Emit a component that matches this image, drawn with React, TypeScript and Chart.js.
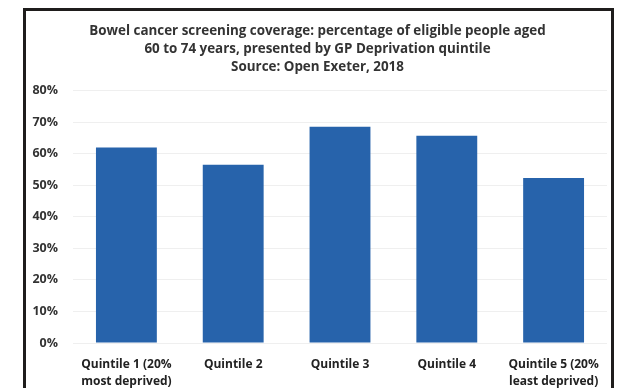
import React, { useEffect, useRef } from "react";
import { Chart, registerables } from "chart.js";

Chart.register(...registerables);

const categories: string[][] = [
  ["Quintile 1 (20%", "most deprived)"],
  ["Quintile 2"],
  ["Quintile 3"],
  ["Quintile 4"],
  ["Quintile 5 (20%", "least deprived)"],
];
const coverage: number[] = [62, 56.5, 68.6, 65.7, 52.3];
const titleLines: string[] = [
  "Bowel cancer screening coverage: percentage of eligible people aged",
  "60 to 74 years, presented by GP Deprivation quintile",
  "Source: Open Exeter, 2018",
];
const yMin = 0;
const yMax = 80;
const yStep = 10;

const FONT = "'Open Sans', Lato, 'DejaVu Sans', sans-serif";

export default function App() {
  const ref = useRef<HTMLCanvasElement | null>(null);

  useEffect(() => {
    if (!ref.current) return;
    const chart = new Chart(ref.current, {
      type: "bar",
      data: {
        labels: categories,
        datasets: [
          {
            data: coverage,
            backgroundColor: "#2763AB",
            borderWidth: 0,
            barPercentage: 0.57,
            categoryPercentage: 1,
          },
        ],
      },
      options: {
        responsive: false,
        animation: false,
        layout: { padding: { left: 28, right: 11, top: 0, bottom: 0 } },
        plugins: {
          legend: { display: false },
          tooltip: { enabled: false },
          title: {
            display: true,
            text: titleLines,
            color: "#333333",
            font: { family: FONT, size: 13.4, weight: "bold", lineHeight: 1.36 },
            padding: { top: 22, bottom: 14 },
          },
        },
        scales: {
          x: {
            grid: { display: false },
            border: { display: false },
            ticks: {
              color: "#222222",
              font: { family: FONT, size: 12, weight: "bold", lineHeight: 1.4 },
              padding: 5,
              maxRotation: 0,
              autoSkip: false,
            },
            afterFit: (s: any) => {
              s.height = 45;
            },
          },
          y: {
            min: yMin,
            max: yMax,
            grid: { color: "#efefef", drawTicks: false },
            border: { display: false },
            ticks: {
              stepSize: yStep,
              color: "#333333",
              padding: 15,
              font: { family: FONT, size: 12.5, weight: "bold" },
              callback: (v: any) => `${v}%`,
            },
            afterFit: (s: any) => {
              s.width = 45;
            },
          },
        },
      },
    });
    return () => chart.destroy();
  }, []);

  return (
    <div
      style={{
        position: "fixed",
        left: 0,
        top: 0,
        width: 618,
        height: 388,
        overflow: "hidden",
        background: "#ffffff",
      }}
    >
      <canvas
        ref={ref}
        width={618}
        height={388}
        style={{ position: "absolute", left: 0, top: 0, width: 618, height: 388 }}
      />
      <div
        style={{
          position: "absolute",
          left: 23,
          top: 8,
          width: 591,
          height: 400,
          border: "3px solid #1f1d1c",
          boxSizing: "border-box",
          pointerEvents: "none",
        }}
      />
    </div>
  );
}
